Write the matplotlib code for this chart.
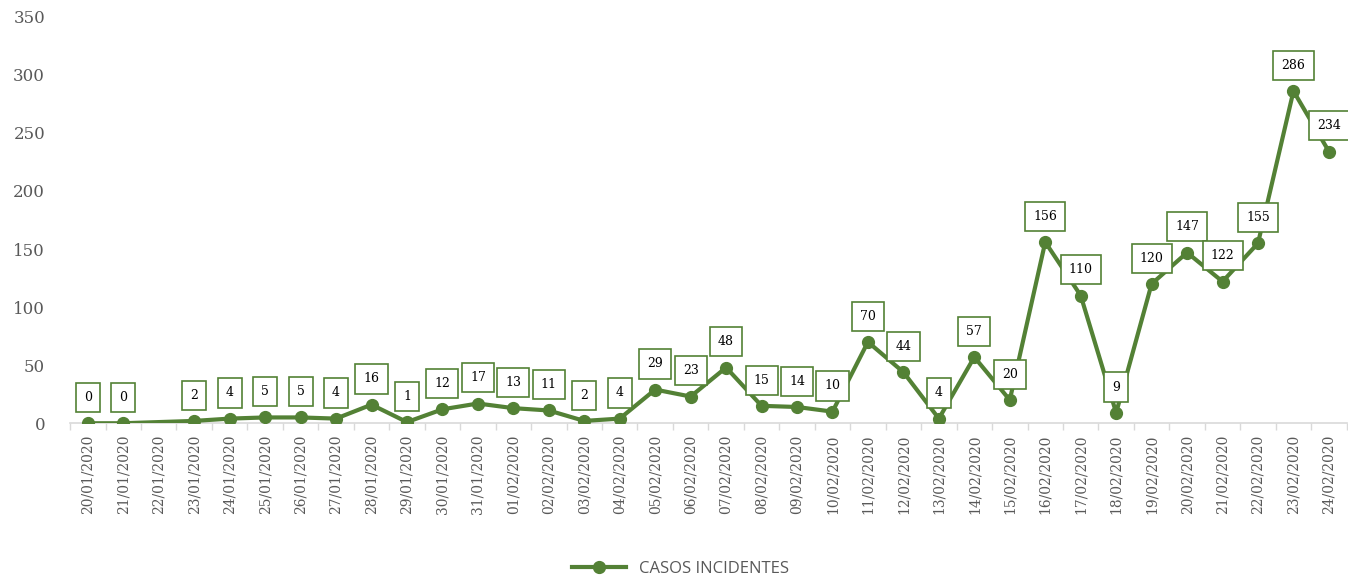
import numpy as np
import matplotlib.pyplot as plt

# ------ Data ------#
dates = ["20/01/2020", "21/01/2020", "22/01/2020", "23/01/2020", "24/01/2020",
         "25/01/2020", "26/01/2020", "27/01/2020", "28/01/2020", "29/01/2020",
         "30/01/2020", "31/01/2020", "01/02/2020", "02/02/2020", "03/02/2020",
         "04/02/2020", "05/02/2020", "06/02/2020", "07/02/2020", "08/02/2020",
         "09/02/2020", "10/02/2020", "11/02/2020", "12/02/2020", "13/02/2020",
         "14/02/2020", "15/02/2020", "16/02/2020", "17/02/2020", "18/02/2020",
         "19/02/2020", "20/02/2020", "21/02/2020", "22/02/2020", "23/02/2020",
         "24/02/2020"]
casos = [0, 0, np.nan, 2, 4, 5, 5, 4, 16, 1, 12, 17, 13, 11, 2, 4, 29, 23, 48,
         15, 14, 10, 70, 44, 4, 57, 20, 156, 110, 9, 120, 147, 122, 155, 286, 234]
yticks = [0, 50, 100, 150, 200, 250, 300, 350]

GREEN = "#538135"
GREY = "#595959"
SERIF = "DejaVu Serif"

fig = plt.figure(figsize=(13.48, 5.79), dpi=100)
ax = fig.add_axes([0.052, 0.269, 0.947, 0.702])

x = np.arange(len(dates))
y = np.array(casos, dtype=float)
ok = ~np.isnan(y)

# line skips the day with no value (22/01)
ax.plot(x[ok], y[ok], color=GREEN, lw=3, marker="o", ms=8.5,
        label="CASOS INCIDENTES", zorder=3)

for xi, yi in zip(x[ok], y[ok]):
    ax.annotate(f"{int(yi)}", (xi, yi), xytext=(0, 18.5), textcoords="offset points",
                ha="center", va="center", fontsize=9, family=SERIF, color="black",
                bbox=dict(boxstyle="square,pad=0.65", fc="white", ec=GREEN, lw=1.2),
                zorder=4)

ax.set_xlim(-0.5, len(dates) - 0.5)
ax.set_ylim(0, 350)
ax.set_yticks(yticks)
ax.set_yticklabels([str(t) for t in yticks], family=SERIF, fontsize=12, color=GREY)
ax.set_xticks(x)
ax.set_xticklabels(dates, rotation=90, family=SERIF, fontsize=10, color=GREY)
ax.set_xticks(np.arange(-0.5, len(dates)), minor=True)
ax.tick_params(axis="x", which="major", length=0, pad=8)
ax.tick_params(axis="x", which="minor", length=5, color="#d9d9d9", width=1)
ax.tick_params(axis="y", length=0, pad=18)

for s in ["top", "right", "left"]:
    ax.spines[s].set_visible(False)
ax.spines["bottom"].set_color("#d9d9d9")
ax.spines["bottom"].set_linewidth(1.2)

leg = fig.legend(loc="lower center", bbox_to_anchor=(0.505, -0.022), frameon=False,
                 prop={"family": "Open Sans", "size": 12}, handlelength=3.2)
for t in leg.get_texts():
    t.set_color(GREY)

fig.savefig("out.png", dpi=100)
